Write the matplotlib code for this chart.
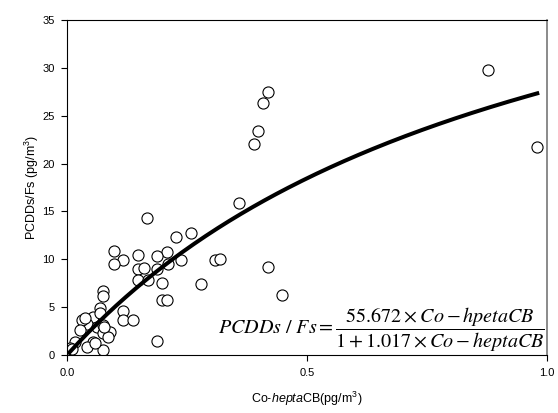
import numpy as np
import matplotlib.pyplot as plt

# valores
co_hepta = [0.878, 0.980, 0.419, 0.409, 0.399, 0.390, 0.419, 0.449,
            0.358, 0.167, 0.258, 0.228, 0.097, 0.147, 0.208, 0.188,
            0.117, 0.238, 0.098, 0.210, 0.308, 0.318, 0.149, 0.160,
            0.188, 0.149, 0.169, 0.198, 0.279, 0.199, 0.209, 0.076,
            0.076, 0.069, 0.117, 0.117, 0.138, 0.188, 0.055, 0.041,
            0.031, 0.027, 0.062, 0.076, 0.079, 0.090, 0.076, 0.086,
            0.055, 0.076, 0.041, 0.017, 0.006, 0.069, 0.038, 0.078,
            0.058, 0.010]
pcdd = [29.8, 21.7, 27.5, 26.3, 23.4, 22.0, 9.2, 6.3,
        15.9, 14.3, 12.8, 12.3, 10.9, 10.45, 10.8, 10.3,
        9.9, 9.9, 9.5, 9.5, 9.9, 10.0, 9.0, 9.1,
        9.0, 7.8, 7.8, 7.5, 7.4, 5.8, 5.75, 6.7,
        6.2, 4.9, 4.6, 3.7, 3.66, 1.5, 4.0, 3.3,
        3.66, 2.6, 2.96, 3.1, 2.6, 2.4, 2.27, 1.9,
        1.4, 0.52, 0.87, 1.4, 0.7, 4.4, 3.9, 2.9,
        1.3, 0.6]

a, b = 55.672, 1.017

plt.rcParams['font.family'] = ['Liberation Sans', 'DejaVu Sans']
plt.rcParams['mathtext.fontset'] = 'custom'
plt.rcParams['mathtext.rm'] = 'Liberation Sans'
plt.rcParams['mathtext.it'] = 'Liberation Sans:italic'

fig = plt.figure(figsize=(5.58, 4.13), dpi=100)
ax = fig.add_axes([0.120, 0.140, 0.860, 0.812])

ax.scatter(co_hepta, pcdd, s=64, facecolors='white', edgecolors='black',
           linewidths=0.8, zorder=2)

xs = np.linspace(0.005, 0.98, 200)
ax.plot(xs, a * xs / (1 + b * xs), color='black', lw=2.9, zorder=3)

ax.set_xlim(0, 1)
ax.set_ylim(0, 35)
ax.set_xticks([0, 0.5, 1.0])
ax.set_xticklabels(['0.0', '0.5', '1.0'])
ax.set_yticks(range(0, 36, 5))
ax.tick_params(direction='out', labelsize=8, length=4, width=0.8, pad=5)
for s in ax.spines.values():
    s.set_linewidth(0.8)
ax.spines['right'].set_color('#777777')
ax.spines['right'].set_linewidth(1.2)

ax.set_xlabel(r'Co-$\mathit{hepta}$CB(pg/m$^3$)', fontsize=9, labelpad=9)
ax.set_ylabel(r'PCDDs/Fs (pg/m$^3$)', fontsize=9, labelpad=1)

eq = (r'$\mathit{PCDDs\ /\ Fs} = '
      r'\dfrac{55.672\times \mathit{Co}-\mathit{hpetaCB}}'
      r'{1+1.017\times \mathit{Co}-\mathit{heptaCB}}$')
ax.text(0.995, 0.004, eq, transform=ax.transAxes, ha='right', va='bottom',
        fontsize=14.5, family='Liberation Serif',
        math_fontfamily='stix')

fig.savefig('out.png', dpi=100)
